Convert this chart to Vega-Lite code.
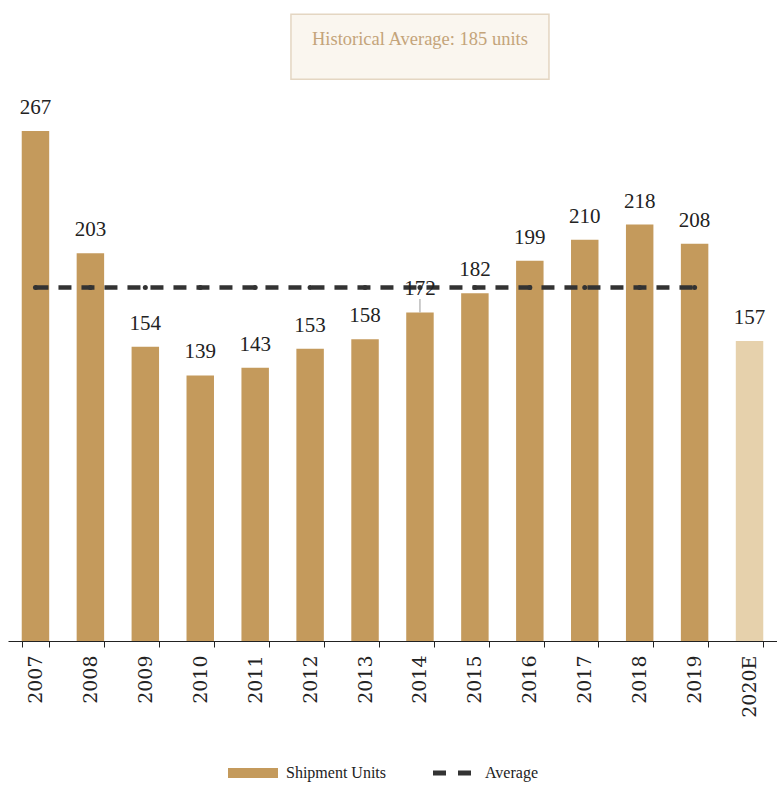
{
  "$schema": "https://vega.github.io/schema/vega-lite/v6.json",
  "width": 769,
  "height": 640,
  "autosize": {"type": "none"},
  "padding": {"left": 8, "top": 1, "right": 0, "bottom": 146},
  "background": "white",
  "config": {"view": {"stroke": null}, "font": "Liberation Serif"},
  "data": {
    "values": [
      {"year": "2007", "units": 267, "average": 185},
      {"year": "2008", "units": 203, "average": 185},
      {"year": "2009", "units": 154, "average": 185},
      {"year": "2010", "units": 139, "average": 185},
      {"year": "2011", "units": 143, "average": 185},
      {"year": "2012", "units": 153, "average": 185},
      {"year": "2013", "units": 158, "average": 185},
      {"year": "2014", "units": 172, "average": 185},
      {"year": "2015", "units": 182, "average": 185},
      {"year": "2016", "units": 199, "average": 185},
      {"year": "2017", "units": 210, "average": 185},
      {"year": "2018", "units": 218, "average": 185},
      {"year": "2019", "units": 208, "average": 185},
      {"year": "2020E", "units": 157, "average": null}
    ]
  },
  "encoding": {
    "x": {
      "field": "year",
      "type": "nominal",
      "sort": null,
      "scale": {"paddingInner": 0.5, "paddingOuter": 0.25},
      "axis": {
        "title": null,
        "labelAngle": -90,
        "labelFont": "DejaVu Serif",
        "labelFontSize": 19,
        "labelColor": "#222222",
        "labelPadding": 8,
        "domainColor": "#222222",
        "tickColor": "#222222",
        "tickSize": 6,
        "tickBand": "extent",
        "grid": false
      }
    },
    "y": {
      "field": "units",
      "type": "quantitative",
      "scale": {"domain": [0, 335]},
      "axis": null
    }
  },
  "layer": [
    {
      "transform": [{"filter": "datum.year !== '2020E'"}],
      "mark": {"type": "bar"},
      "encoding": {
        "color": {
          "datum": "Shipment Units",
          "type": "nominal",
          "scale": {"domain": ["Shipment Units", "Average"], "range": ["#C49A5C", "#333333"]},
          "legend": {
            "title": null,
            "orient": "none",
            "legendX": 220,
            "legendY": 747,
            "direction": "horizontal",
            "symbolSize": 2500,
            "symbolStrokeWidth": 0,
            "labelFont": "Liberation Serif",
            "labelFontSize": 16,
            "labelColor": "#222222",
            "labelOffset": 8,
            "columnPadding": 40,
            "encode": {
              "symbols": {
                "update": {
                  "shape": {"signal": "datum.value === 'Average' ? 'M-0.76,-0.1H-0.24V0.1H-0.76Z M0.24,-0.1H0.76V0.1H0.24Z' : 'M-1,-0.2H1V0.2H-1Z'"},
                  "fill": {"signal": "datum.value === 'Average' ? '#333333' : '#C49A5C'"},
                  "opacity": {"value": 1}
                }
              }
            }
          }
        }
      }
    },
    {
      "transform": [{"filter": "datum.year === '2020E'"}],
      "mark": {"type": "bar", "color": "#E6D1AC"}
    },
    {
      "transform": [{"filter": "datum.year === '2014'"}],
      "mark": {"type": "rule", "color": "#9a9a9a", "strokeWidth": 1},
      "encoding": {"y2": {"datum": 179}}
    },
    {
      "mark": {
        "type": "line",
        "strokeWidth": 4.5,
        "strokeDash": [13, 10],
        "point": {"filled": true, "size": 25}
      },
      "encoding": {
        "y": {"field": "average", "type": "quantitative"},
        "color": {"datum": "Average", "type": "nominal"}
      }
    },
    {
      "mark": {
        "type": "text",
        "dy": -17,
        "baseline": "alphabetic",
        "font": "Liberation Serif",
        "fontSize": 21,
        "color": "#222222"
      },
      "encoding": {"text": {"field": "units", "type": "quantitative"}}
    },
    {
      "transform": [{"filter": "datum.year === '2014'"}],
      "mark": {"type": "bar", "width": 258, "fill": "#FAF6EF", "stroke": "#E4D6C2", "strokeWidth": 1.5},
      "encoding": {
        "y": {"datum": 294, "type": "quantitative"},
        "y2": {"datum": 328}
      }
    },
    {
      "transform": [{"filter": "datum.year === '2014'"}],
      "mark": {
        "type": "text",
        "font": "Liberation Serif",
        "fontSize": 18.5,
        "color": "#C4A47A",
        "baseline": "middle"
      },
      "encoding": {
        "y": {"datum": 315, "type": "quantitative"},
        "text": {"value": "Historical Average: 185 units"}
      }
    }
  ]
}
